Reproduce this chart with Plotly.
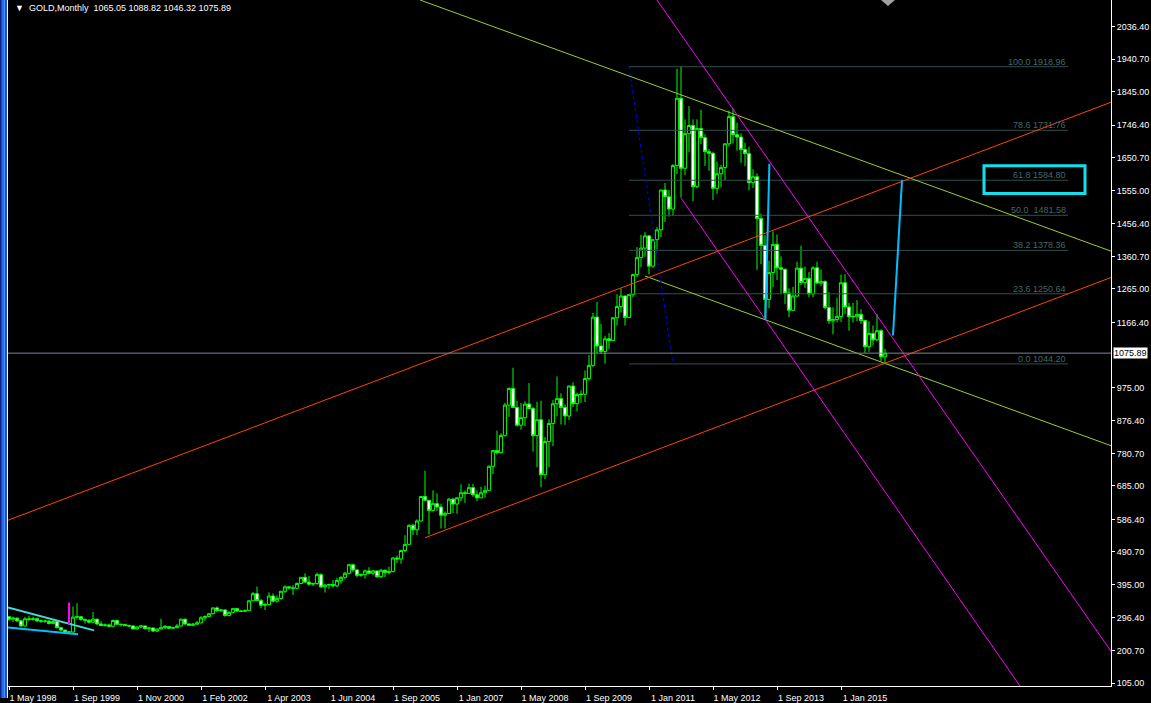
import plotly.graph_objects as go

# ---------------- candle data (monthly) ----------------
opens = [300,293,296,288,273,294,292,294,288,287,287,280,286,268,261,255,
         255,299,300,292,290,284,293,279,274,276,272,289,278,277,274,273,
         264,270,273,265,267,258,264,268,271,266,268,273,293,279,275,278,
         282,297,301,309,326,318,320,304,313,324,317,316,318,347,368,348,
         334,336,361,346,354,375,388,385,384,398,416,402,396,398,424,388,
         393,395,391,407,416,428,453,438,422,424,435,428,435,418,437,430,
         433,473,470,495,513,569,556,582,654,643,613,633,623,599,604,646,
         632,650,665,663,680,659,650,665,672,743,789,783,834,923,972,916,
         864,886,926,913,833,880,718,816,869,927,942,916,891,979,927,954,
         955,1001,1040,1182,1097,1081,1118,1113,1180,1213,1244,1181,1248,1307,1357,1385,
         1421,1332,1410,1439,1556,1536,1500,1628,1826,1620,1722,1746,1566,1737,1710,1669,
         1664,1561,1604,1622,1692,1772,1719,1712,1675,1663,1578,1595,1472,1393,1234,1313,
         1396,1327,1323,1253,1202,1244,1326,1284,1296,1250,1327,1282,1287,1210,1171,1175,
         1184,1283,1212,1183,1183,1190,1172,1095,1134,1115,1142,1065.05]
highs = [302,300,298,290,300,303,300,298,292,291,291,291,290,268,262,258,
         330,340,302,295,292,314,294,287,280,280,292,291,280,279,277,275,
         272,275,274,268,268,265,294,276,272,270,279,294,294,280,282,288,
         302,304,311,328,330,322,322,316,326,326,320,322,349,373,389,352,
         341,372,369,363,376,392,390,393,401,417,428,420,400,430,428,397,
         398,408,415,419,432,456,456,441,428,439,446,438,436,441,439,447,
         475,480,496,540,572,574,587,655,730,643,672,663,633,610,650,650,
         652,690,672,692,691,672,683,686,745,791,848,840,930,975,1033,935,
         929,934,988,918,933,936,829,882,938,1007,958,925,981,990,960,966,
         1025,1070,1195,1227,1162,1127,1135,1181,1249,1266,1245,1250,1310,1388,1424,1432,
         1424,1411,1447,1557,1577,1556,1632,1913,1921,1764,1803,1764,1764,1792,1720,1677,
         1669,1640,1630,1693,1790,1796,1754,1723,1695,1684,1617,1605,1487,1424,1348,1434,
         1425,1361,1324,1267,1271,1345,1392,1331,1315,1332,1345,1322,1290,1255,1211,1239,
         1307,1308,1224,1224,1232,1205,1173,1170,1157,1191,1146,1088.82]
lows = [288,285,284,271,271,287,288,284,282,282,278,278,266,257,252,252,
        254,292,288,280,280,281,276,274,271,269,270,276,271,272,269,263,
        262,267,263,255,255,255,263,264,264,265,266,271,276,272,272,277,
        281,288,299,307,315,314,300,301,311,313,314,315,317,345,345,325,
        320,334,342,342,350,370,380,364,380,396,400,391,390,394,384,371,
        382,386,387,398,410,424,432,416,418,412,425,422,414,414,416,425,
        431,458,456,490,513,540,540,580,640,542,610,612,560,560,604,605,
        603,640,635,663,653,640,649,650,670,720,778,780,830,888,915,860,
        851,861,914,786,740,681,705,740,802,890,866,865,879,917,905,930,
        932,995,1035,1075,1074,1045,1088,1112,1157,1196,1157,1178,1240,1300,1330,1360,
        1308,1327,1381,1418,1462,1478,1480,1603,1534,1600,1668,1523,1562,1691,1627,1613,
        1527,1545,1564,1585,1684,1693,1672,1636,1626,1555,1562,1321,1338,1180,1208,1270,
        1291,1251,1221,1182,1200,1240,1277,1268,1240,1240,1280,1273,1205,1162,1131,1167,
        1168,1192,1142,1166,1170,1162,1077,1080,1098,1112,1052,1046.32]
closes = [293,296,288,273,294,292,294,288,287,287,280,286,268,261,255,255,
          299,300,292,290,284,293,279,274,276,272,289,278,277,274,273,264,
          270,273,265,267,258,264,268,271,266,268,273,293,279,275,278,282,
          297,301,309,326,318,320,304,313,324,317,316,318,347,368,348,334,
          336,361,346,354,375,388,385,384,398,416,402,396,398,424,388,393,
          395,391,407,416,428,453,438,422,424,435,428,435,418,437,430,433,
          473,470,495,513,569,556,582,654,643,613,633,623,599,604,646,632,
          650,665,663,680,659,650,665,672,743,789,783,834,923,972,916,864,
          886,926,913,833,880,718,816,869,927,942,916,891,979,927,954,955,
          1001,1040,1182,1097,1081,1118,1113,1180,1213,1244,1181,1248,1307,1357,1385,1421,
          1332,1410,1439,1556,1536,1500,1628,1826,1620,1722,1746,1566,1737,1710,1669,1664,
          1561,1604,1622,1692,1772,1719,1712,1675,1663,1578,1595,1472,1393,1234,1313,1396,
          1327,1323,1253,1202,1244,1326,1284,1296,1250,1327,1282,1287,1210,1171,1175,1184,
          1283,1212,1183,1184,1190,1172,1095,1134,1115,1142,1065,1075.89]
bar_index = list(range(len(closes)))

# ---------------- axes ----------------
x_tick_pos = [0, 16, 32, 48, 64, 80, 96, 112, 128, 144, 160, 176, 192, 208]
x_tick_text = ["1 May 1998", "1 Sep 1999", "1 Nov 2000", "1 Feb 2002", "1 Apr 2003",
               "1 Jun 2004", "1 Sep 2005", "1 Jan 2007", "1 May 2008", "1 Sep 2009",
               "1 Jan 2011", "1 May 2012", "1 Sep 2013", "1 Jan 2015"]
y_tick_vals = [105.00, 200.70, 296.40, 395.00, 490.70, 586.40, 685.00, 780.70, 876.40,
               975.00, 1166.40, 1265.00, 1360.70, 1456.40, 1555.00, 1650.70, 1746.40,
               1845.00, 1940.70, 2036.40]
x_range = [-0.25, 275.5]
y_range = [96.23, 2115.3]
last_price = 1075.89

# ---------------- fibonacci ----------------
fib_pct = ["100.0", "78.6", "61.8", "50.0 ", "38.2", "23.6", "0.0"]
fib_price = [1918.96, 1731.76, 1584.80, 1481.58, 1378.36, 1250.64, 1044.20]
fib_x = [155, 264.75]

# ---------------- drawn objects (index, price) ----------------
yg_upper_x = [102.75, 275.5];  yg_upper_y = [2115.3, 1376.1]
yg_lower_x = [159, 275.5];     yg_lower_y = [1303.0, 803.4]
or_upper_x = [-0.25, 275.5];   or_upper_y = [584.2, 1814.4]
or_lower_x = [104, 275.5];     or_lower_y = [532.5, 1298.6]
mg_upper_x = [162, 275.5];     mg_upper_y = [2115.3, 198.5]
mg_lower_x = [168, 252.75];    mg_lower_y = [1532.4, 96.2]
dot_x = [155, 166];            dot_y = [1918.96, 1044.20]
drop_x = [190.1, 189.1];       drop_y = [1633.2, 1174.5]
proj_x = [221, 223.25];        proj_y = [1127.7, 1584.8]
wedge_up_x = [-0.25, 21.25];   wedge_up_y = [327.1, 259.9]
wedge_lo_x = [-0.25, 17.25];   wedge_lo_y = [268.6, 248.2]
mark_x = [15, 15];             mark_y = [342, 277]
box_x = [243.75, 269.0];       box_y = [1545.5, 1627.4]

FONT = "Liberation Sans, Arial, DejaVu Sans"

fig = go.Figure()

fig.add_trace(go.Candlestick(
    x=bar_index, open=opens, high=highs, low=lows, close=closes,
    increasing=dict(line=dict(color="#00FF00", width=1), fillcolor="#000000"),
    decreasing=dict(line=dict(color="#00FF00", width=1), fillcolor="#FFFFFF"),
    whiskerwidth=0, hoverinfo="skip", showlegend=False))

def seg(xs, ys, color, width=1, dash="solid"):
    fig.add_trace(go.Scatter(x=xs, y=ys, mode="lines",
                             line=dict(color=color, width=width, dash=dash),
                             hoverinfo="skip", showlegend=False))

# fib lines
for p in fib_price:
    seg(fib_x, [p, p], "#2F4F4F", 1)

seg(yg_upper_x, yg_upper_y, "#9ACD32")
seg(yg_lower_x, yg_lower_y, "#9ACD32")
seg(or_upper_x, or_upper_y, "#FF4500")
seg(or_lower_x, or_lower_y, "#FF4500")
seg(mg_upper_x, mg_upper_y, "#FF00FF")
seg(mg_lower_x, mg_lower_y, "#FF00FF")
seg(dot_x, dot_y, "#0000FF", 1, "3px,3px")
seg(drop_x, drop_y, "#00BFFF", 2)
seg(proj_x, proj_y, "#00BFFF", 2)
seg(wedge_up_x, wedge_up_y, "#48D8D8", 2)
seg(wedge_lo_x, wedge_lo_y, "#00BFFF", 2)
seg(mark_x, mark_y, "#FF00FF", 2)

shapes = []
# current price line
shapes.append(dict(type="line", xref="paper", yref="y", x0=0, x1=1,
                   y0=last_price, y1=last_price, line=dict(color="#778899", width=1)))
# cyan box
shapes.append(dict(type="rect", xref="x", yref="y", x0=box_x[0], x1=box_x[1],
                   y0=box_y[0], y1=box_y[1], line=dict(color="#10E0EE", width=3)))
# left window strip
PW = 1103.0
strip = [(-8, -7, "#0A2680"), (-7, -6, "#1848C8"), (-6, -4, "#2A6CF0"),
         (-4, -3, "#4A8CF8"), (-3, -1, "#1C50D0"), (-1, 0, "#FFFFFF")]
for a, b, c in strip:
    shapes.append(dict(type="rect", xref="paper", yref="paper", x0=a / PW, x1=b / PW,
                       y0=-12 / 691.0, y1=1, line=dict(width=0), fillcolor=c, layer="above"))
# shift marker at top
shapes.append(dict(type="path", xref="paper", yref="paper",
                   path="M %f %f L %f %f L %f %f Z" % (881 / PW - 8 / PW, 1.0, 895 / PW - 8 / PW, 1.0,
                                                       888 / PW - 8 / PW, 1 - 6 / 691.0),
                   fillcolor="#A0A0A0", line=dict(width=0)))

annotations = []
for pct, p in zip(fib_pct, fib_price):
    annotations.append(dict(x=fib_x[1], y=p, xref="x", yref="y", text="%s %.2f" % (pct, p),
                            showarrow=False, xanchor="right", yanchor="bottom", yshift=-2,
                            font=dict(family=FONT, size=9, color="#456767")))
annotations.append(dict(x=1, y=last_price, xref="paper", yref="y", text="%.2f" % last_price,
                        showarrow=False, xanchor="left", yanchor="middle", xshift=2,
                        bgcolor="#FFFFFF", borderpad=0,
                        font=dict(family=FONT, size=9, color="#000000")))
annotations.append(dict(x=5 / PW, y=1, xref="paper", yref="paper",
                        text="\u25BC  GOLD,Monthly  %.2f %.2f %.2f %.2f" % (opens[-1], highs[-1], lows[-1], closes[-1]),
                        showarrow=False, xanchor="left", yanchor="top", yshift=-1,
                        font=dict(family=FONT, size=9, color="#FFFFFF")))

fig.update_layout(
    width=1151, height=703,
    margin=dict(l=8, r=40, t=0, b=12),
    paper_bgcolor="#000000", plot_bgcolor="#000000",
    showlegend=False, boxgap=0.2, boxgroupgap=0,
    shapes=shapes, annotations=annotations,
    xaxis=dict(range=x_range, showgrid=False, zeroline=False, showline=True,
               linecolor="#FFFFFF", linewidth=1, ticks="outside", ticklen=3,
               tickcolor="#FFFFFF", tickvals=x_tick_pos, ticktext=x_tick_text,
               ticklabelshift=24, ticklabelstandoff=0,
               tickfont=dict(family=FONT, size=9, color="#FFFFFF"),
               rangeslider=dict(visible=False), fixedrange=True),
    yaxis=dict(range=y_range, side="right", showgrid=False, zeroline=False,
               showline=True, linecolor="#FFFFFF", linewidth=1, ticks="outside",
               ticklen=3, tickcolor="#FFFFFF", tickvals=y_tick_vals,
               ticktext=["%.2f" % v for v in y_tick_vals],
               tickfont=dict(family=FONT, size=9, color="#FFFFFF"), fixedrange=True),
)

fig.write_html("out.html", config={"displayModeBar": False},
               post_script="document.body.style.margin='0';document.body.style.padding='0';"
                           "document.body.style.background='#000';")
